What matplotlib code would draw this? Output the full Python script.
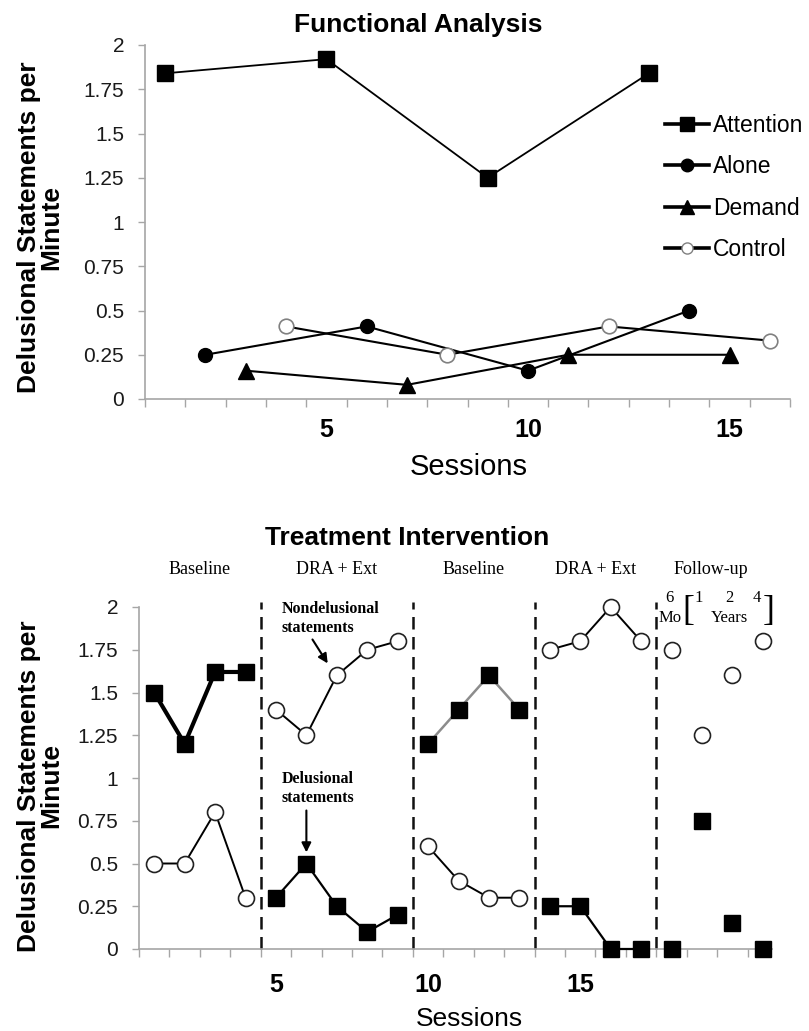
import matplotlib
matplotlib.use("Agg")
import matplotlib.pyplot as plt
from matplotlib.lines import Line2D
import matplotlib.transforms as mtransforms

# ---------------- data ----------------
# Functional analysis (top)
fa_attention_x = [1, 5, 9, 13]
fa_attention_y = [1.84, 1.92, 1.25, 1.84]
fa_alone_x = [2, 6, 10, 14]
fa_alone_y = [0.25, 0.41, 0.16, 0.50]
fa_demand_x = [3, 7, 11, 15]
fa_demand_y = [0.16, 0.08, 0.25, 0.25]
fa_control_x = [4, 8, 12, 16]
fa_control_y = [0.41, 0.25, 0.41, 0.33]

yticks = [0, 0.25, 0.5, 0.75, 1, 1.25, 1.5, 1.75, 2]
ytick_labels = ["0", "0.25", "0.5", "0.75", "1", "1.25", "1.5", "1.75", "2"]
xtick_major = [5, 10, 15]
xtick_labels = ["5", "10", "15"]

# Treatment intervention (bottom)
sessions = list(range(1, 22))
delusional = [1.50, 1.20, 1.62, 1.62,
              0.30, 0.50, 0.25, 0.10, 0.20,
              1.20, 1.40, 1.60, 1.40,
              0.25, 0.25, 0.00, 0.00,
              0.00, 0.75, 0.15, 0.00]
nondelusional = [0.50, 0.50, 0.80, 0.30,
                 1.40, 1.25, 1.60, 1.75, 1.80,
                 0.60, 0.40, 0.30, 0.30,
                 1.75, 1.80, 2.00, 1.80,
                 1.75, 1.25, 1.60, 1.80]
phase_names = ["Baseline", "DRA + Ext", "Baseline", "DRA + Ext", "Follow-up"]
phase_starts = [1, 5, 10, 14, 18]
phase_ends = [4, 9, 13, 17, 21]
phase_lines = [4.5, 9.5, 13.5, 17.5]

# ---------------- figure ----------------
W, H = 809, 1031
fig = plt.figure(figsize=(W / 100, H / 100), dpi=100)
plt.rcParams['font.family'] = ['Liberation Sans', 'DejaVu Sans']

def fx(x):
    return x / W

def fy(y):
    return 1 - y / H

GRAY = '#a6a6a6'
SERIF = ['Liberation Serif', 'DejaVu Serif']


def style_axes(ax, xmin, xmax, minor_max, label_pad):
    ax.set_ylim(0, 2)
    ax.set_xlim(xmin, xmax)
    for s in ['top', 'right']:
        ax.spines[s].set_visible(False)
    for s in ['left', 'bottom']:
        ax.spines[s].set_color(GRAY)
        ax.spines[s].set_linewidth(1.2)
    ax.set_yticks(yticks)
    ax.set_yticklabels(ytick_labels)
    ax.tick_params(axis='y', direction='out', length=5, width=1, color=GRAY,
                   labelsize=15, labelcolor='#1a1a1a', pad=10)
    ax.set_xticks(xtick_major)
    ax.set_xticklabels(xtick_labels, fontweight='bold', fontsize=18)
    ax.tick_params(axis='x', which='major', length=0, pad=label_pad)
    minors = [i + 0.5 for i in range(0, minor_max)]
    ax.set_xticks(minors, minor=True)
    ax.tick_params(axis='x', which='minor', direction='out', length=6,
                   width=1, color=GRAY)
    ax.patch.set_alpha(0)


# ---------------- top chart ----------------
ax1 = fig.add_axes([fx(145), fy(399), fx(790) - fx(145), fy(45) - fy(399)])
style_axes(ax1, 0.5, 16.5, 17, 14)

ax1.plot(fa_attention_x, fa_attention_y, color='black', lw=1.3, marker='s',
         ms=11, mfc='black', mec='black', zorder=3, clip_on=False)
ax1.plot(fa_alone_x, fa_alone_y, color='black', lw=1.5, marker='o',
         ms=10, mfc='black', mec='black', zorder=3, clip_on=False)
ax1.plot(fa_demand_x, fa_demand_y, color='black', lw=1.5, marker='^',
         ms=11, mfc='black', mec='black', zorder=3, clip_on=False)
ax1.plot(fa_control_x, fa_control_y, color='black', lw=1.5, marker='o',
         ms=10.5, mfc='white', mec='#808080', mew=1.2, zorder=4, clip_on=False)

handles = [
    Line2D([], [], color='black', lw=2.6, marker='s', ms=10, mfc='black', mec='black'),
    Line2D([], [], color='black', lw=2.6, marker='o', ms=9, mfc='black', mec='black'),
    Line2D([], [], color='black', lw=2.6, marker='^', ms=9.5, mfc='black', mec='black'),
    Line2D([], [], color='black', lw=2.6, marker='o', ms=8, mfc='white', mec='#808080', mew=1),
]
fig.legend(handles, ['Attention', 'Alone', 'Demand', 'Control'],
           loc='upper left', bbox_to_anchor=(fx(665), fy(114)),
           frameon=False, fontsize=16.5, handlelength=1.9, handletextpad=0.2,
           labelspacing=0.8, borderpad=0, borderaxespad=0)

fig.text(fx(418), fy(32), 'Functional Analysis', ha='center', va='baseline',
         fontsize=19, fontweight='bold')
fig.text(fx(40), fy(227), 'Delusional Statements per\nMinute', rotation=90,
         ha='center', va='center', multialignment='center', fontsize=19,
         fontweight='bold', linespacing=0.92)
fig.text(fx(469), fy(475), 'Sessions', ha='center', va='baseline', fontsize=21)

# ---------------- bottom chart ----------------
ax2 = fig.add_axes([fx(139), fy(949), fx(772) - fx(139), fy(607) - fy(949)])
style_axes(ax2, 0.5, 21.3, 21, 17)

for i, (s0, s1) in enumerate(zip(phase_starts, phase_ends)):
    xs = sessions[s0 - 1:s1]
    yd = delusional[s0 - 1:s1]
    yn = nondelusional[s0 - 1:s1]
    if i == 4:
        ls = 'none'
    else:
        ls = '-'
    if i == 0:
        dcol, dlw = 'black', 3.0
    elif i == 2:
        dcol, dlw = '#8c8c8c', 1.8
    else:
        dcol, dlw = 'black', 1.6
    ax2.plot(xs, yd, color=dcol, lw=dlw, ls=ls, marker='s', ms=12,
             mfc='black', mec='black', zorder=3, clip_on=False)
    ax2.plot(xs, yn, color='black', lw=1.4, ls=ls, marker='o', ms=11.5,
             mfc='white', mec='#222222', mew=1.2, zorder=3, clip_on=False)

ax2.vlines(phase_lines, 0, 2.03, colors='#111111', linestyles=(0, (5, 3)),
           lw=1.8, clip_on=False, zorder=2)

blend = mtransforms.blended_transform_factory(ax2.transData, fig.transFigure)
phase_centers = [2.5, 7.0, 11.5, 15.5, 19.3]
for name, cx in zip(phase_names, phase_centers):
    fig.text(cx, fy(574), name, transform=blend, ha='center', va='baseline',
             fontsize=13, family=SERIF)

# annotations
ax2.text(5.19, 1.965, 'Nondelusional', ha='left', va='baseline', fontsize=11.5,
         fontweight='bold', family=SERIF)
ax2.text(5.19, 1.854, 'statements', ha='left', va='baseline', fontsize=11.5,
         fontweight='bold', family=SERIF)
ax2.annotate('', xy=(6.7, 1.67), xytext=(6.2, 1.81),
             arrowprops=dict(arrowstyle='-|>', color='black', lw=1.5,
                             mutation_scale=14, shrinkA=0, shrinkB=0))
ax2.text(5.19, 0.97, 'Delusional', ha='left', va='baseline', fontsize=11.5,
         fontweight='bold', family=SERIF)
ax2.text(5.19, 0.86, 'statements', ha='left', va='baseline', fontsize=11.5,
         fontweight='bold', family=SERIF)
ax2.annotate('', xy=(6.0, 0.565), xytext=(6.0, 0.81),
             arrowprops=dict(arrowstyle='-|>', color='black', lw=1.5,
                             mutation_scale=14, shrinkA=0, shrinkB=0))

# follow-up time labels
ax2.text(17.94, 2.03, '6', ha='center', va='baseline', fontsize=12,
         family=SERIF, clip_on=False)
ax2.text(17.96, 1.915, 'Mo', ha='center', va='baseline', fontsize=12,
         family=SERIF, clip_on=False)
ax2.text(18.55, 1.975, '[', ha='center', va='center', fontsize=26,
         family=SERIF, clip_on=False)
ax2.text(18.88, 2.03, '1', ha='center', va='baseline', fontsize=12,
         family=SERIF, clip_on=False)
ax2.text(19.9, 2.03, '2', ha='center', va='baseline', fontsize=12,
         family=SERIF, clip_on=False)
ax2.text(20.8, 2.03, '4', ha='center', va='baseline', fontsize=12,
         family=SERIF, clip_on=False)
ax2.text(19.9, 1.915, 'Years', ha='center', va='baseline', fontsize=12,
         family=SERIF, clip_on=False)
ax2.text(21.2, 1.975, ']', ha='center', va='center', fontsize=26,
         family=SERIF, clip_on=False)

fig.text(fx(407), fy(545), 'Treatment Intervention', ha='center', va='baseline',
         fontsize=19, fontweight='bold')
fig.text(fx(40), fy(786), 'Delusional Statements per\nMinute', rotation=90,
         ha='center', va='center', multialignment='center', fontsize=19,
         fontweight='bold', linespacing=0.92)
fig.text(fx(469), fy(1031), 'Sessions', ha='center', va='bottom', fontsize=19)

fig.savefig('out.png', dpi=100)
